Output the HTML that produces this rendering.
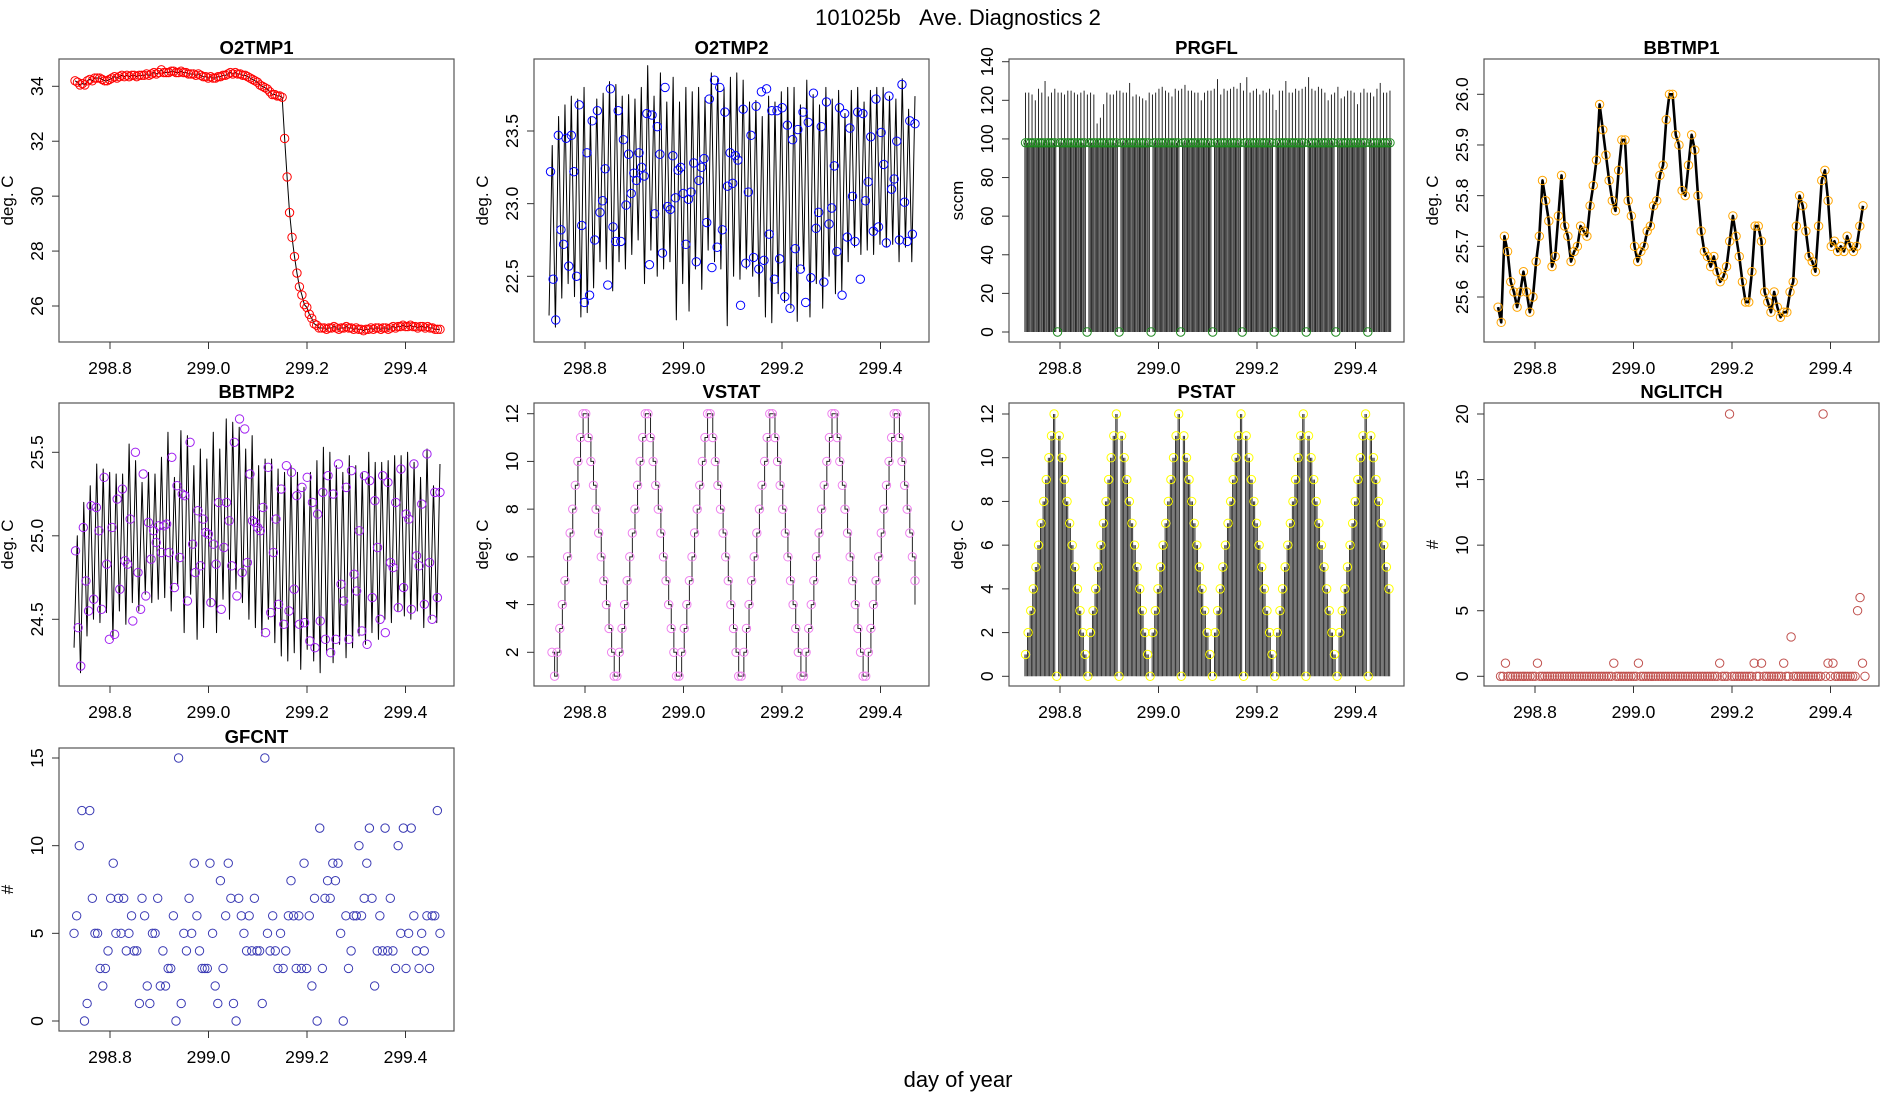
<!DOCTYPE html>
<html><head><meta charset="utf-8"><title>101025b Ave. Diagnostics 2</title>
<style>
html,body{margin:0;padding:0;background:#fff;}
svg{display:block;font-family:"Liberation Sans",Arial,sans-serif;}
</style></head>
<body>
<svg id="fig" xmlns="http://www.w3.org/2000/svg" width="1900" height="1100" viewBox="0 0 1900 1100">
<rect x="0" y="0" width="1900" height="1100" fill="#fff"/>
<text x="958" y="25" font-size="22" text-anchor="middle">101025b&#160;&#160;&#160;Ave. Diagnostics 2</text>
<text x="958" y="1087" font-size="22" text-anchor="middle">day of year</text>
</svg>
<script>
// ---------- data ----------
const xTickVals = [298.8, 299.0, 299.2, 299.4];
const xTickLabels = ["298.8", "299.0", "299.2", "299.4"];

const o2tmp1Values = [34.2,34.15,34.05,34.1,34.05,34.2,34.25,34.2,34.3,34.3,34.3,
34.25,34.2,34.2,34.25,34.3,34.35,34.3,34.35,34.4,34.35,
34.4,34.35,34.4,34.4,34.35,34.4,34.4,34.4,34.45,34.4,
34.45,34.5,34.45,34.5,34.6,34.5,34.5,34.5,34.55,34.55,
34.5,34.5,34.55,34.5,34.5,34.45,34.45,34.45,34.4,34.45,
34.4,34.35,34.35,34.3,34.35,34.3,34.3,34.35,34.35,34.4,
34.4,34.45,34.5,34.45,34.5,34.45,34.45,34.4,34.4,34.35,
34.3,34.25,34.2,34.15,34.05,34.0,33.95,33.9,33.8,33.7,
33.7,33.65,33.65,33.6,
32.1,30.7,29.4,28.5,27.8,27.2,26.7,26.4,26.05,25.95,25.7,25.55,25.35,25.3,25.2,25.2,
25.2,25.15,25.2,25.2,25.25,25.2,25.15,25.2,25.2,25.25,25.2,25.2,25.15,25.2,25.15,25.15,25.1,25.15,25.15,25.2,25.15,25.2,25.2,25.15,25.2,25.2,25.15,25.2,25.25,25.2,25.25,25.25,25.3,25.25,25.25,25.3,25.25,25.25,25.2,25.25,25.25,25.2,25.25,25.2,25.2,25.15,25.15,25.15];

const o2tmp2Values = [23.22,22.48,22.2,23.47,22.82,22.72,23.45,22.57,23.47,23.22,22.5,23.68,22.85,22.32,23.35,22.37,23.57,22.75,23.64,22.94,23.02,23.24,22.44,23.79,22.84,22.74,23.64,22.74,23.44,22.99,23.34,23.07,23.21,23.16,23.35,23.25,23.19,23.62,22.58,23.61,22.93,23.53,23.34,22.66,23.8,22.98,22.96,23.33,23.04,23.23,23.25,23.07,22.72,23.03,23.08,23.28,22.6,23.16,23.25,23.31,22.87,23.72,22.56,23.85,22.7,23.8,22.82,23.63,23.12,23.35,23.14,23.33,23.3,22.3,23.65,22.59,23.08,23.47,22.63,23.67,22.55,23.77,22.61,23.79,22.79,23.64,22.48,23.64,22.62,23.66,22.36,23.54,22.28,23.44,22.69,23.51,22.55,23.63,22.32,23.56,22.49,23.76,22.83,22.94,23.53,22.46,23.7,22.86,22.97,23.26,22.67,23.66,22.37,23.62,22.77,23.52,23.05,22.74,23.63,22.48,23.62,23.02,23.15,23.46,22.81,23.72,22.84,23.49,23.27,22.73,23.74,23.1,23.17,23.43,22.75,23.82,23.01,22.74,23.57,22.79,23.55];
const o2tmp2Peaks = [23.4,23.6,23.68,23.74,23.72,23.8,23.6,23.72,23.76,23.84,23.82,23.74,23.75,23.72,23.8,23.95,23.74,23.9,23.7,23.87,23.7,23.8,23.77,23.8,23.73,23.9,23.86,23.8,23.87,23.9,23.85,23.7,23.71,23.6,23.74,23.7,23.77,23.8,23.8,23.68,23.85,23.75,23.68,23.8,23.72,23.78,23.62,23.78,23.8,23.7,23.78,23.8,23.8,23.74,23.72,23.86,23.65,23.74];
const o2tmp2Troughs = [22.23,22.15,22.35,22.45,22.36,22.22,22.25,22.42,22.6,22.55,22.4,22.6,22.55,22.65,22.75,22.45,22.68,22.5,22.55,22.6,22.2,22.45,22.26,22.55,22.41,22.68,22.6,22.55,22.16,22.5,22.48,22.55,22.5,22.36,22.22,22.18,22.38,22.32,22.28,22.19,22.55,22.22,22.45,22.28,22.5,22.38,22.4,22.6,22.7,22.65,22.68,22.65,22.72,22.7,22.72,22.6,22.7,22.6];

const prgflValues = [98,98,98,98,98,98,98,98,98,98,
98,98,98,0,98,98,98,98,98,98,
98,98,98,98,98,0,98,98,98,98,
98,98,98,98,98,98,98,98,0,98,
98,98,98,98,98,98,98,98,98,98,
98,0,98,98,98,98,98,98,98,98,
98,98,98,0,98,98,98,98,98,98,
98,98,98,98,98,98,0,98,98,98,
98,98,98,98,98,98,98,98,0,98,
98,98,98,98,98,98,98,98,98,98,
98,0,98,98,98,98,98,98,98,98,
98,98,98,98,0,98,98,98,98,98,
98,98,98,98,98,98,0,98,98,98,
98,98,98,98,98,98,98,98,98,0,
98,98,98,98,98,98,98,98,98];
const prgflPeaks = [124,124,123,120,126,124,130,122,124,126,124,124,123,125,125,124,123,124,125,123,124,123,108,111,118,124,123,123,125,125,124,124,129,122,123,122,121,120,124,123,124,126,127,125,124,122,126,125,126,128,125,125,124,124,120,124,125,125,126,131,123,126,125,126,127,126,129,125,132,124,125,126,123,125,124,126,123,115,125,125,130,124,124,126,125,126,127,132,126,125,127,126,124,120,123,124,127,121,122,125,125,124,118,124,126,124,124,122,126,129,124,124,125];

const bbtmp1Values = [25.58,25.55,25.72,25.69,25.63,25.61,25.58,25.61,25.65,25.61,25.57,25.60,25.67,25.72,25.83,25.79,25.75,25.66,25.68,25.76,25.84,25.74,25.72,25.67,25.69,25.70,25.74,25.73,25.72,25.78,25.82,25.87,25.98,25.93,25.88,25.83,25.79,25.77,25.85,25.91,25.91,25.79,25.76,25.70,25.67,25.69,25.70,25.73,25.74,25.78,25.79,25.84,25.86,25.95,26.00,26.00,25.92,25.90,25.81,25.80,25.86,25.92,25.89,25.80,25.73,25.69,25.68,25.66,25.68,25.65,25.63,25.64,25.66,25.71,25.76,25.72,25.68,25.63,25.59,25.59,25.65,25.74,25.74,25.71,25.61,25.59,25.57,25.61,25.58,25.56,25.57,25.57,25.61,25.63,25.74,25.80,25.78,25.73,25.68,25.67,25.65,25.74,25.83,25.85,25.79,25.70,25.71,25.69,25.70,25.69,25.72,25.70,25.69,25.70,25.74,25.78];

const bbtmp2Values = [24.91,24.45,24.22,25.05,24.73,24.55,25.18,24.62,25.17,25.03,24.56,25.35,24.83,24.38,25.05,24.41,25.22,24.68,25.28,24.85,24.83,25.1,24.49,25.5,24.78,24.56,25.37,24.64,25.08,24.86,25.03,24.96,25.06,24.9,25.06,25.07,24.9,25.47,24.69,25.3,24.87,25.25,25.24,24.61,25.56,24.95,24.78,25.15,24.82,25.1,25.02,25.01,24.6,24.95,24.83,25.2,24.56,24.93,25.2,25.09,24.82,25.56,24.64,25.7,24.78,25.64,24.84,25.37,25.09,25.08,25.05,25.03,25.17,24.42,25.41,24.54,24.9,25.1,24.59,25.28,24.47,25.42,24.55,25.38,24.68,25.24,24.47,25.29,24.48,25.35,24.37,25.2,24.33,25.13,24.49,25.26,24.38,25.36,24.3,25.25,24.38,25.43,24.71,24.61,25.29,24.38,25.39,24.77,24.67,25.03,24.43,25.36,24.35,25.33,24.63,25.21,24.93,24.5,25.36,24.42,25.32,24.84,24.81,25.2,24.57,25.4,24.69,25.13,25.1,24.56,25.43,24.88,24.82,25.19,24.59,25.49,24.84,24.5,25.26,24.63,25.26];
const bbtmp2Peaks = [25.0,25.2,25.3,25.43,25.4,25.38,25.37,25.37,25.55,25.45,25.32,25.38,25.37,25.47,25.62,25.35,25.63,25.6,25.42,25.52,25.46,25.62,25.52,25.7,25.68,25.65,25.52,25.6,25.42,25.46,25.46,25.4,25.38,25.42,25.38,25.29,25.38,25.45,25.53,25.5,25.42,25.38,25.48,25.42,25.38,25.5,25.44,25.44,25.45,25.48,25.48,25.5,25.44,25.35,25.52,25.3,25.43];
const bbtmp2Troughs = [24.33,24.18,24.4,24.5,24.48,24.54,24.38,24.55,24.47,24.6,24.55,24.65,24.6,24.62,24.63,24.55,24.7,24.42,24.65,24.38,24.45,24.58,24.42,24.62,24.5,24.68,24.6,24.5,24.45,24.4,24.5,24.36,24.28,24.25,24.3,24.2,24.32,24.25,24.18,24.3,24.24,24.35,24.27,24.33,24.4,24.35,24.42,24.38,24.5,24.48,24.55,24.52,24.5,24.55,24.45,24.5,24.48];

const vstatValues = [2,1,
2,3,4,5,6,7,8,9,10,11,12,12,11,10,9,8,7,6,5,4,3,2,1,1,
2,3,4,5,6,7,8,9,10,11,12,12,11,10,9,8,7,6,5,4,3,2,1,1,
2,3,4,5,6,7,8,9,10,11,12,12,11,10,9,8,7,6,5,4,3,2,1,1,
2,3,4,5,6,7,8,9,10,11,12,12,11,10,9,8,7,6,5,4,3,2,1,1,
2,3,4,5,6,7,8,9,10,11,12,12,11,10,9,8,7,6,5,4,3,2,1,1,
2,3,4,5,6,7,8,9,10,11,12,12,11,10,9,8,7,6,5];

const pstatValues = [1,2,3,4,5,6,7,8,9,10,11,12,0,11,10,9,8,7,6,5,4,3,2,1,
0,2,3,4,5,6,7,8,9,10,11,12,0,11,10,9,8,7,6,5,4,3,2,1,
0,2,3,4,5,6,7,8,9,10,11,12,0,11,10,9,8,7,6,5,4,3,2,1,
0,2,3,4,5,6,7,8,9,10,11,12,0,11,10,9,8,7,6,5,4,3,2,1,
0,2,3,4,5,6,7,8,9,10,11,12,0,11,10,9,8,7,6,5,4,3,2,1,
0,2,3,4,5,6,7,8,9,10,11,12,0,11,10,9,8,7,6,5,4];

const nglitchValues = [0,0,1,0,0,0,0,0,0,0,
0,0,0,0,0,1,0,0,0,0,
0,0,0,0,0,0,0,0,0,0,
0,0,0,0,0,0,0,0,0,0,
0,0,0,0,0,0,1,0,0,0,
0,0,0,0,0,0,1,0,0,0,
0,0,0,0,0,0,0,0,0,0,
0,0,0,0,0,0,0,0,0,0,
0,0,0,0,0,0,0,0,0,1,
0,0,0,20,0,0,0,0,0,0,
0,0,0,1,0,0,1,0,0,0,
0,0,0,0,0,1,0,0,3,0,
0,0,0,0,0,0,0,0,0,0,
0,20,0,1,0,1,0,0,0,0,
0,0,0,0,0,5,6,1,0];

const gfcntValues = [5,6,10,12,0,1,12,7,5,5,3,2,3,4,7,9,5,7,5,7,4,5,6,4,4,1,7,6,2,1,5,5,7,2,4,2,3,3,6,0,15,1,5,4,7,5,9,6,4,3,3,3,9,5,2,1,8,3,6,9,7,1,0,7,6,5,4,6,4,7,4,4,1,15,5,4,6,4,3,5,3,4,6,8,6,3,6,3,9,3,6,2,7,0,11,3,7,8,7,9,8,9,5,0,6,3,4,6,6,10,6,7,9,11,7,2,4,6,4,11,4,7,4,3,10,5,11,3,5,11,6,4,3,5,4,6,3,6,6,12,5];

// ---------- drawing ----------
const NS = "http://www.w3.org/2000/svg";
const svg = document.getElementById("fig");
const COLS = [59, 534, 1009, 1484], ROWS = [59, 403, 748], PW = 395, PH = 283;

function mk(tag, attrs, parent) {
  const e = document.createElementNS(NS, tag);
  for (const k in attrs) e.setAttribute(k, attrs[k]);
  parent.appendChild(e);
  return e;
}
function makeX(left) { return d => left + 51 + (d - 298.8) / 0.2 * 98.5; }
function makeY(top, v1, p1, v2, p2) { return v => top + p1 + (v - v1) * (p2 - p1) / (v2 - v1); }
function dates(n, a, b) { const out = []; for (let i = 0; i < n; i++) out.push(a + (b - a) * i / (n - 1)); return out; }

function frame(key, title, col, row, yTicks, yLabels, ylab, yref) {
  const left = COLS[col], top = ROWS[row];
  const g = mk("g", {}, svg);
  
  
  const X = makeX(left), Y = makeY(top, yref[0], yref[1], yref[2], yref[3]);
  const box = mk("rect", {x: left, y: top, width: PW, height: PH, fill: "none", stroke: "#555", "stroke-width": 1.2}, g);
  
  
  const t = mk("text", {x: left + PW / 2, y: top - 5, "font-size": 18.5, "font-weight": "bold", "text-anchor": "middle"}, g);
  t.textContent = title;
  
  
  const yl = mk("text", {x: 0, y: 0, "font-size": 17, "text-anchor": "middle", transform: `translate(${left - 46},${top + PH / 2}) rotate(-90)`}, g);
  yl.textContent = ylab;
  
  
  xTickVals.forEach((v, i) => {
    const x = X(v);
    const tk = mk("line", {x1: x, x2: x, y1: top + PH, y2: top + PH + 7, stroke: "#333"}, g);
    
    
    const lb = mk("text", {x: x, y: top + PH + 32, "font-size": 17.5, "text-anchor": "middle"}, g);
    lb.textContent = xTickLabels[i];
    
    
  });
  yTicks.forEach((v, i) => {
    const y = Y(v);
    const tk = mk("line", {x1: left - 7, x2: left, y1: y, y2: y, stroke: "#333"}, g);
    
    
    const lb = mk("text", {x: 0, y: 0, "font-size": 17.5, "text-anchor": "middle", transform: `translate(${left - 16},${y}) rotate(-90)`}, g);
    lb.textContent = yLabels[i];
    
    
  });
  return {g, X, Y, top, left};
}

function circles(p, key, xs, vals, color) {
  const g = mk("g", {fill: "none", stroke: color, "stroke-width": 1}, p.g);
  
  
  vals.forEach((v, i) => {
    const c = mk("circle", {cx: p.X(xs[i]).toFixed(2), cy: p.Y(v).toFixed(2), r: 4.2}, g);
    
    
  });
}
function polyline(p, key, xs, vals, color, w) {
  const pts = vals.map((v, i) => p.X(xs[i]).toFixed(2) + "," + p.Y(v).toFixed(2)).join(" ");
  const l = mk("polyline", {points: pts, fill: "none", stroke: color, "stroke-width": w, "stroke-linejoin": "round"}, p.g);
  
  
}
function alternating(troughs, peaks) {
  const out = [];
  for (let i = 0; i < Math.min(troughs.length, peaks.length); i++) { out.push(troughs[i]); out.push(peaks[i]); }
  return out;
}

// O2TMP1
{
  const p = frame("o2tmp1", "O2TMP1", 0, 0, [26, 28, 30, 32, 34], ["26", "28", "30", "32", "34"], "deg. C", [34, 27.3, 26, 247]);
  const xs = dates(o2tmp1Values.length, 298.729, 299.47);
  polyline(p, "o2tmp1", xs, o2tmp1Values, "#000", 1);
  circles(p, "o2tmp1", xs, o2tmp1Values, "#ff0000");
}
// O2TMP2
{
  const p = frame("o2tmp2", "O2TMP2", 1, 0, [22.5, 23.0, 23.5], ["22.5", "23.0", "23.5"], "deg. C", [23.5, 72, 22.5, 217.3]);
  const lv = alternating(o2tmp2Troughs, o2tmp2Peaks);
  polyline(p, "o2tmp2", dates(lv.length, 298.727, 299.47), lv, "#000", 1);
  circles(p, "o2tmp2", dates(o2tmp2Values.length, 298.73, 299.47), o2tmp2Values, "#0000ff");
}
// PRGFL
{
  const p = frame("prgfl", "PRGFL", 2, 0, [0, 20, 40, 60, 80, 100, 120, 140], ["0", "20", "40", "60", "80", "100", "120", "140"], "sccm", [140, 2.7, 0, 273]);
  const xs = dates(prgflValues.length, 298.73, 299.47);
  const bars = mk("g", {stroke: "#111", "stroke-width": 0.9}, p.g);
  
  
  prgflValues.forEach((v, i) => {
    if (v <= 0) return;
    for (const off of [-0.6, 0.7]) {
      const x = p.X(xs[i]) + off;
      const b = mk("line", {x1: x, x2: x, y1: p.Y(0), y2: p.Y(v)}, bars);
      
      
    }
  });
  const pxs = dates(prgflPeaks.length, 298.73, 299.47);
  const pk = mk("g", {stroke: "#111", "stroke-width": 0.9}, p.g);
  
  
  prgflPeaks.forEach((v, i) => {
    const x = p.X(pxs[i]);
    const b = mk("line", {x1: x, x2: x, y1: p.Y(98), y2: p.Y(v)}, pk);
    
    
  });
  circles(p, "prgfl", xs, prgflValues, "#1e8a1e");
}
// BBTMP1
{
  const p = frame("bbtmp1", "BBTMP1", 3, 0, [25.6, 25.7, 25.8, 25.9, 26.0], ["25.6", "25.7", "25.8", "25.9", "26.0"], "deg. C", [26.0, 35.3, 25.6, 238]);
  const xs = dates(bbtmp1Values.length, 298.725, 299.466);
  polyline(p, "bbtmp1", xs, bbtmp1Values, "#000", 2.6);
  circles(p, "bbtmp1", xs, bbtmp1Values, "#ffa500");
}
// BBTMP2
{
  const p = frame("bbtmp2", "BBTMP2", 0, 1, [24.5, 25.0, 25.5], ["24.5", "25.0", "25.5"], "deg. C", [25.5, 49.3, 24.5, 216.3]);
  const lv = alternating(bbtmp2Troughs, bbtmp2Peaks);
  polyline(p, "bbtmp2", dates(lv.length, 298.727, 299.47), lv, "#000", 1);
  circles(p, "bbtmp2", dates(bbtmp2Values.length, 298.73, 299.47), bbtmp2Values, "#a020f0");
}
// VSTAT
{
  const p = frame("vstat", "VSTAT", 1, 1, [2, 4, 6, 8, 10, 12], ["2", "4", "6", "8", "10", "12"], "deg. C", [12, 10.7, 2, 249.3]);
  const xs = dates(vstatValues.length, 298.733, 299.47);
  let d = "";
  vstatValues.forEach((v, i) => {
    const x = p.X(xs[i]).toFixed(2), y = p.Y(v).toFixed(2);
    if (i === 0) d += `M${x},${y}`; else d += `H${x}V${y}`;
  });
  d += `V${p.Y(4).toFixed(2)}`;
  const st = mk("path", {d: d, fill: "none", stroke: "#222", "stroke-width": 1}, p.g);
  
  
  circles(p, "vstat", xs, vstatValues, "#ee82ee");
}
// PSTAT
{
  const p = frame("pstat", "PSTAT", 2, 1, [0, 2, 4, 6, 8, 10, 12], ["0", "2", "4", "6", "8", "10", "12"], "deg. C", [12, 11, 0, 273.3]);
  const xs = dates(pstatValues.length, 298.73, 299.468);
  const bars = mk("g", {stroke: "#222", "stroke-width": 0.9}, p.g);
  
  
  pstatValues.forEach((v, i) => {
    if (v <= 0) return;
    for (const off of [-0.6, 0.7]) {
      const x = p.X(xs[i]) + off;
      const b = mk("line", {x1: x, x2: x, y1: p.Y(0), y2: p.Y(v)}, bars);
      
      
    }
  });
  circles(p, "pstat", xs, pstatValues, "#ffff00");
}
// NGLITCH
{
  const p = frame("nglitch", "NGLITCH", 3, 1, [0, 5, 10, 15, 20], ["0", "5", "10", "15", "20"], "#", [20, 11, 0, 273.3]);
  circles(p, "nglitch", dates(nglitchValues.length, 298.73, 299.47), nglitchValues, "#c0504d");
}
// GFCNT
{
  const p = frame("gfcnt", "GFCNT", 0, 2, [0, 5, 10, 15], ["0", "5", "10", "15"], "#", [15, 10, 0, 273]);
  circles(p, "gfcnt", dates(gfcntValues.length, 298.727, 299.47), gfcntValues, "#3a3ab4");
}
</script>
</body></html>
